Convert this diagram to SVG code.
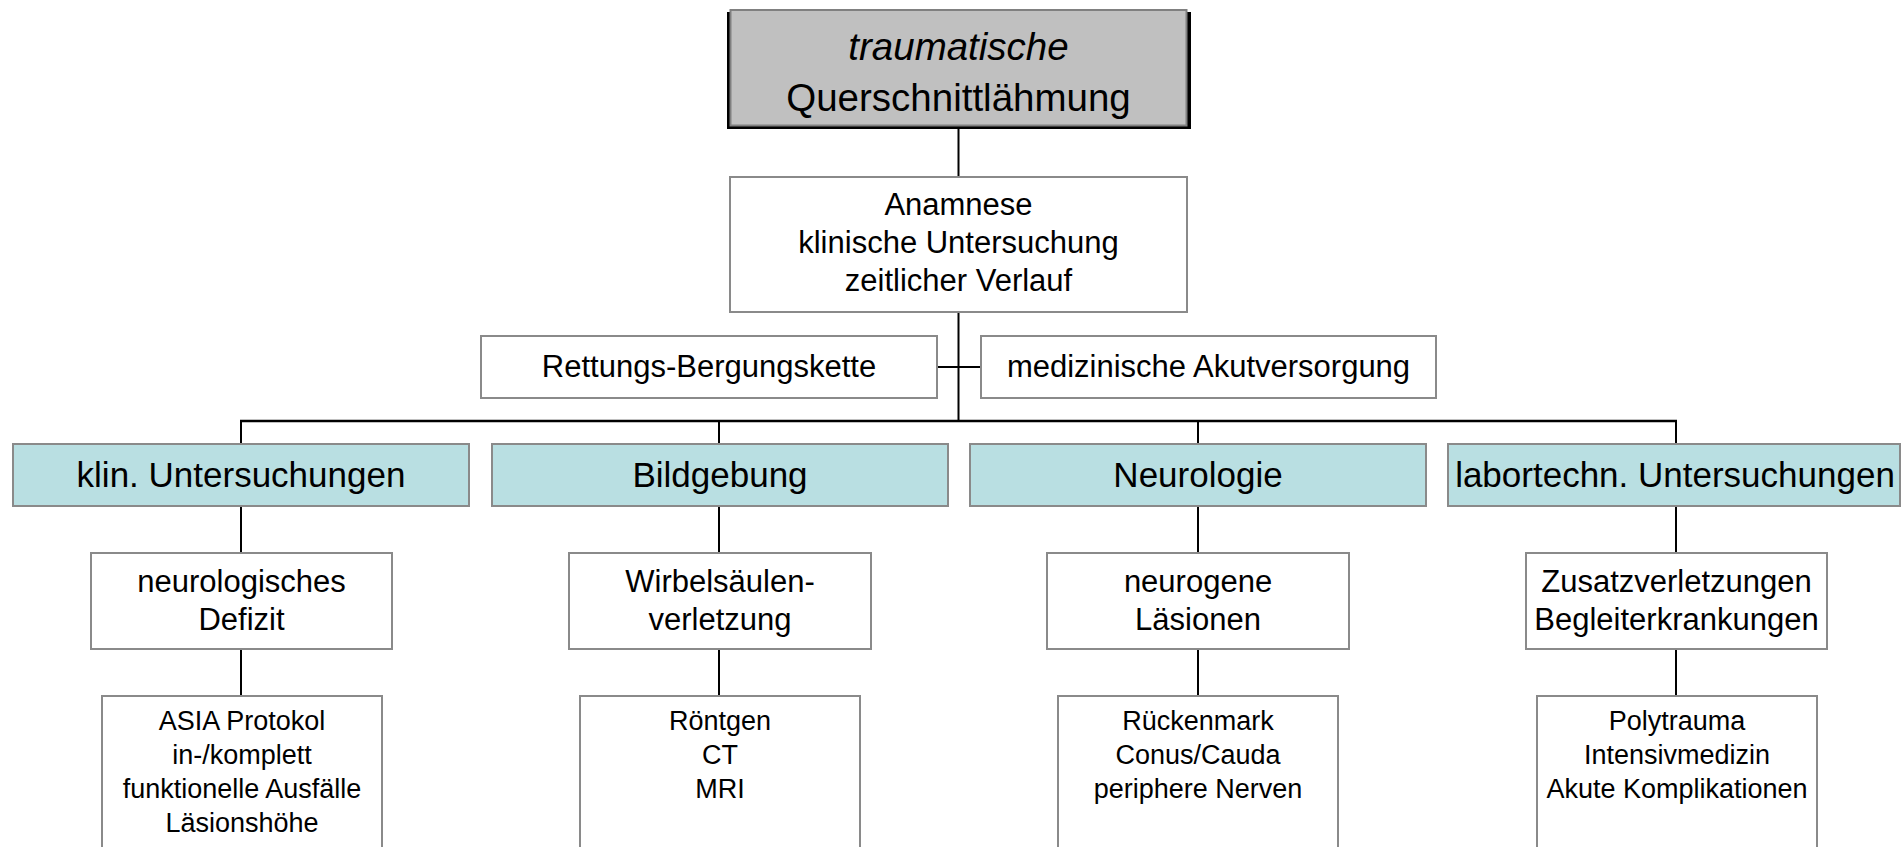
<svg xmlns="http://www.w3.org/2000/svg" width="1903" height="847" viewBox="0 0 1903 847">
<style>
text{font-family:"Liberation Sans",Arial,sans-serif;fill:#000;text-anchor:middle}
.box{fill:#fff;stroke:#8a8a8a;stroke-width:2}
.hdr{fill:#b9dfe2;stroke:#8a8a8a;stroke-width:2}
.ln{stroke:#000;stroke-width:2;fill:none}
.t31{font-size:31px}
.t35{font-size:35px}
.t27{font-size:27px}
.t37{font-size:38.5px}
</style>
<rect width="1903" height="847" fill="#fff"/>
<g id="connectors">
<line class="ln" x1="958.5" y1="129" x2="958.5" y2="177"/>
<line class="ln" x1="958.5" y1="312" x2="958.5" y2="421"/>
<line class="ln" x1="937" y1="367" x2="981" y2="367"/>
<line class="ln" x1="240" y1="421" x2="1677" y2="421" style="stroke-width:2.5"/>
<path class="ln" d="M241 421V444M719 421V444M1198 421V444M1676 421V444"/>
<path class="ln" d="M241 506V553M719 506V553M1198 506V553M1676 506V553"/>
<path class="ln" d="M241 649V696M719 649V696M1198 649V696M1676 649V696"/>
</g>
<g id="root">
<rect x="727" y="12" width="464" height="117" fill="#000"/>
<rect x="730.5" y="10" width="456" height="115.5" fill="#c0c0c0" stroke="#808080" stroke-width="2"/>
<text class="t37" x="958.5" y="60" font-style="italic">traumatische</text>
<text class="t37" x="958.5" y="111">Querschnittlähmung</text>
</g>
<g id="anamnese">
<rect class="box" x="730" y="177" width="457" height="135"/>
<text class="t31" x="958.5" y="215">Anamnese</text>
<text class="t31" x="958.5" y="253">klinische Untersuchung</text>
<text class="t31" x="958.5" y="291">zeitlicher Verlauf</text>
</g>
<g id="rettung">
<rect class="box" x="481" y="336" width="456" height="62"/>
<text class="t31" x="709" y="377">Rettungs-Bergungskette</text>
</g>
<g id="akut">
<rect class="box" x="981" y="336" width="455" height="62"/>
<text class="t31" x="1208.5" y="377">medizinische Akutversorgung</text>
</g>
<g id="klin">
<rect class="hdr" x="13" y="444" width="456" height="62"/>
<text class="t35" x="241" y="487">klin. Untersuchungen</text>
</g>
<g id="bild">
<rect class="hdr" x="492" y="444" width="456" height="62"/>
<text class="t35" x="720" y="487">Bildgebung</text>
</g>
<g id="neuro">
<rect class="hdr" x="970" y="444" width="456" height="62"/>
<text class="t35" x="1198" y="487">Neurologie</text>
</g>
<g id="labor">
<rect class="hdr" x="1448" y="444" width="452" height="62"/>
<text class="t35" x="1675" y="487">labortechn. Untersuchungen</text>
</g>
<g id="defizit">
<rect class="box" x="91" y="553" width="301" height="96"/>
<text class="t31" x="241.5" y="592">neurologisches</text>
<text class="t31" x="241.5" y="630">Defizit</text>
</g>
<g id="wirbel">
<rect class="box" x="569" y="553" width="302" height="96"/>
<text class="t31" x="720" y="592">Wirbelsäulen-</text>
<text class="t31" x="720" y="630">verletzung</text>
</g>
<g id="laesion">
<rect class="box" x="1047" y="553" width="302" height="96"/>
<text class="t31" x="1198" y="592">neurogene</text>
<text class="t31" x="1198" y="630">Läsionen</text>
</g>
<g id="zusatz">
<rect class="box" x="1526" y="553" width="301" height="96"/>
<text class="t31" x="1676.5" y="592">Zusatzverletzungen</text>
<text class="t31" x="1676.5" y="630">Begleiterkrankungen</text>
</g>
<g id="asia">
<rect class="box" x="102" y="696" width="280" height="160"/>
<text class="t27" x="242" y="730">ASIA Protokol</text>
<text class="t27" x="242" y="764">in-/komplett</text>
<text class="t27" x="242" y="798">funktionelle Ausfälle</text>
<text class="t27" x="242" y="832">Läsionshöhe</text>
</g>
<g id="bildverfahren">
<rect class="box" x="580" y="696" width="280" height="160"/>
<text class="t27" x="720" y="730">Röntgen</text>
<text class="t27" x="720" y="764">CT</text>
<text class="t27" x="720" y="798">MRI</text>
</g>
<g id="lokalisation">
<rect class="box" x="1058" y="696" width="280" height="160"/>
<text class="t27" x="1198" y="730">Rückenmark</text>
<text class="t27" x="1198" y="764">Conus/Cauda</text>
<text class="t27" x="1198" y="798">periphere Nerven</text>
</g>
<g id="poly">
<rect class="box" x="1537" y="696" width="280" height="160"/>
<text class="t27" x="1677" y="730">Polytrauma</text>
<text class="t27" x="1677" y="764">Intensivmedizin</text>
<text class="t27" x="1677" y="798">Akute Komplikationen</text>
</g>
</svg>
